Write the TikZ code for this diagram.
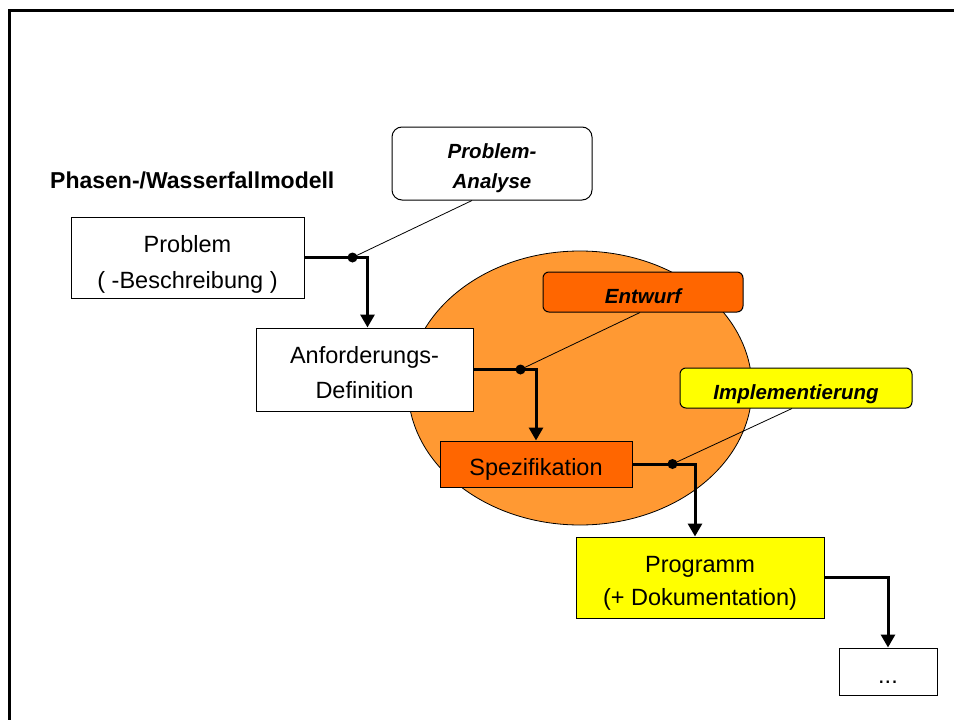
\documentclass[tikz,border=0pt]{standalone}
\usepackage{fontspec}
\setmainfont{Liberation Sans}
\usetikzlibrary{shapes.geometric,arrows.meta}
\definecolor{ellorange}{HTML}{FF9933}
\definecolor{darkorange}{HTML}{FF6600}
\definecolor{ylw}{HTML}{FFFF00}
\newcommand\twoline[2]{\begin{tabular}[t]{@{}c@{}}#1\\#2\end{tabular}}
\begin{document}
\begin{tikzpicture}[x=1pt,y=-1pt,
  box/.style={draw=black,line width=1pt,rectangle,inner sep=0pt,fill=white},
  reg/.style={font=\fontsize{23.5}{#1}\selectfont},
  bi/.style={font=\fontsize{20.5}{30}\selectfont\bfseries\itshape},
  flow/.style={line width=3pt,-{Triangle[width=14pt,length=13pt]}},
  callout/.style={line width=0.8pt},
  dotmark/.style={circle,fill=black,inner sep=0pt,minimum size=10pt}]
\useasboundingbox (0,0) rectangle (954,720);
\draw[line width=3pt] (9,10) rectangle (990,750);
% ellipse
\node[ellipse,draw=black,line width=0.8pt,fill=ellorange,minimum width=344pt,minimum height=274pt,inner sep=0pt] (ell) at (580,388) {};
% title
\node[anchor=base west,font=\fontsize{23}{28}\selectfont\bfseries,inner sep=0pt] (title) at (50,188) {Phasen-/Wasserfallmodell};
% phase boxes
\node[box,reg=36,minimum width=233pt,minimum height=81pt,text height=0pt,text depth=11pt] (prob) at (187.5,257.5) {\twoline{Problem}{( -Beschreibung )}};
\node[box,reg=35,minimum width=217pt,minimum height=83pt,text height=0pt,text depth=13pt] (anf) at (364.5,369.5) {\twoline{Anforderungs-}{Definition}};
\node[box,fill=darkorange,reg=35,minimum width=192pt,minimum height=46pt,text height=22pt,text depth=0pt] (spez) at (536,464) {Spezifikation};
\node[box,fill=ylw,reg=33,minimum width=248pt,minimum height=81pt,text height=0pt,text depth=11pt] (prog) at (700,577.5) {\twoline{Programm}{(+ Dokumentation)}};
\node[box,reg=35,minimum width=98pt,minimum height=47pt,text height=23pt,text depth=0pt] (more) at (888,671.5) {...};
% activity boxes
\node[box,rounded corners=10pt,bi,minimum width=200pt,minimum height=73pt,text height=0pt,text depth=11pt] (pa) at (492,163.5) {\twoline{Problem-}{Analyse}};
\node[box,rounded corners=6pt,fill=darkorange,bi,minimum width=200pt,minimum height=40pt,text height=22pt,text depth=0pt] (ent) at (643,292) {Entwurf};
\node[box,rounded corners=6pt,fill=ylw,bi,minimum width=232pt,minimum height=40pt,text height=22pt,text depth=0pt] (impl) at (796,388) {Implementierung};
% dots
\path (prob.east) ++(48,0) coordinate (d1);
\path (anf.east) ++(47,0) coordinate (d2);
\path (spez.east) ++(40,0) coordinate (d3);
% flow connectors
\draw[flow] (prob.east) -| ([xshift=3pt]anf.north);
\draw[flow] (anf.east) -| (spez.north);
\draw[flow] (spez.east) -| ([xshift=-5pt]prog.north);
\draw[flow] (prog.east) -| (more.north);
% callouts
\draw[callout] ([xshift=-20pt]pa.south) -- (d1);
\draw[callout] ([xshift=-3pt]ent.south) -- (d2);
\draw[callout] ([xshift=-4pt]impl.south) -- (d3);
\node[dotmark] (dot1) at (d1) {};
\node[dotmark] (dot2) at (d2) {};
\node[dotmark] (dot3) at (d3) {};
\end{tikzpicture}
\end{document}
